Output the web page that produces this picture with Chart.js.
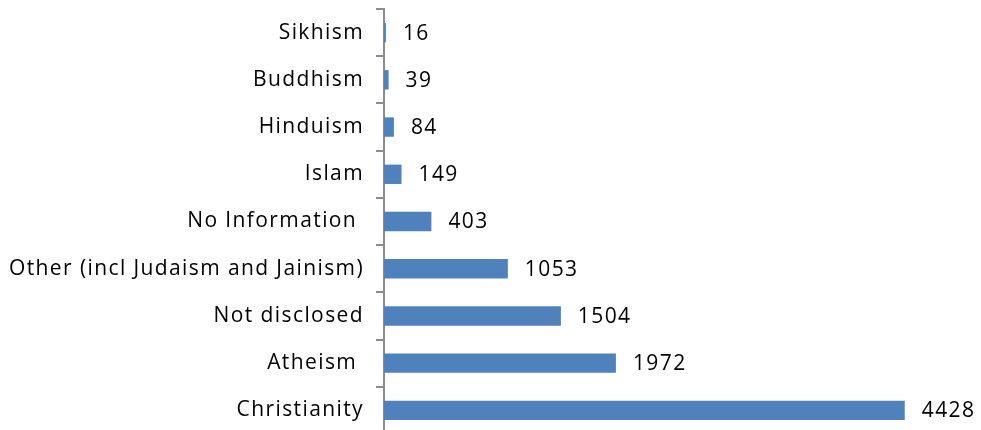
<!DOCTYPE html>
<html>
<head>
<meta charset="utf-8">
<script src="https://cdn.jsdelivr.net/npm/chart.js@4/dist/chart.umd.min.js"></script>
<style>
  html, body { margin: 0; padding: 0; background: #fff; overflow: hidden; }
  #wrap { width: 981px; height: 434px; position: relative; }
</style>
</head>
<body>
<div id="wrap"><canvas id="chart"></canvas></div>
<script>
// religion categories, top to bottom as in the picture
const religions = ['Sikhism', 'Buddhism', 'Hinduism', 'Islam', 'No Information ', 'Other (incl Judaism and Jainism)', 'Not disclosed', 'Atheism ', 'Christianity'];
const counts = [16, 39, 84, 149, 403, 1053, 1504, 1972, 4428];

const FONT = '"Open Sans", "Noto Sans", sans-serif';
const SPACING = '1.4px';

// the original text is set quite loose, so widen the canvas letter spacing
const looseText = {
  id: 'looseText',
  beforeLayout(chart) { chart.ctx.letterSpacing = SPACING; },
  beforeDraw(chart) { chart.ctx.letterSpacing = SPACING; }
};

// draws the number just after the end of each bar
const valueLabels = {
  id: 'valueLabels',
  afterDatasetsDraw(chart) {
    const ctx = chart.ctx;
    const meta = chart.getDatasetMeta(0);
    ctx.save();
    ctx.letterSpacing = SPACING;
    ctx.font = '21px ' + FONT;
    ctx.fillStyle = '#000';
    ctx.textAlign = 'left';
    ctx.textBaseline = 'middle';
    meta.data.forEach((bar, i) => {
      ctx.fillText(String(counts[i]), bar.x + 17, bar.y + 1);
    });
    ctx.restore();
  }
};

new Chart(document.getElementById('chart'), {
  type: 'bar',
  data: {
    labels: religions,
    datasets: [{
      data: counts,
      backgroundColor: '#4F81BD',
      borderWidth: 0,
      barPercentage: 0.41,
      categoryPercentage: 1
    }]
  },
  options: {
    indexAxis: 'y',
    responsive: true,
    maintainAspectRatio: false,
    animation: false,
    layout: { padding: { top: 9, right: 9, bottom: 0, left: 0 } },
    plugins: { legend: { display: false }, tooltip: { enabled: false } },
    scales: {
      x: { display: false, min: 0, max: 5000 },
      y: {
        afterFit: (scale) => {
          scale.width = 384;
          scale.paddingTop = 0;
          scale.paddingBottom = 0;
        },
        border: { display: true, color: '#8c8c8c', width: 2 },
        grid: { drawOnChartArea: false, drawTicks: true, tickLength: 8, color: '#8c8c8c', lineWidth: 2, offset: true },
        ticks: { color: '#000', padding: 12, font: { family: FONT, size: 21 } }
      }
    }
  },
  plugins: [looseText, valueLabels]
});
</script>
</body>
</html>
